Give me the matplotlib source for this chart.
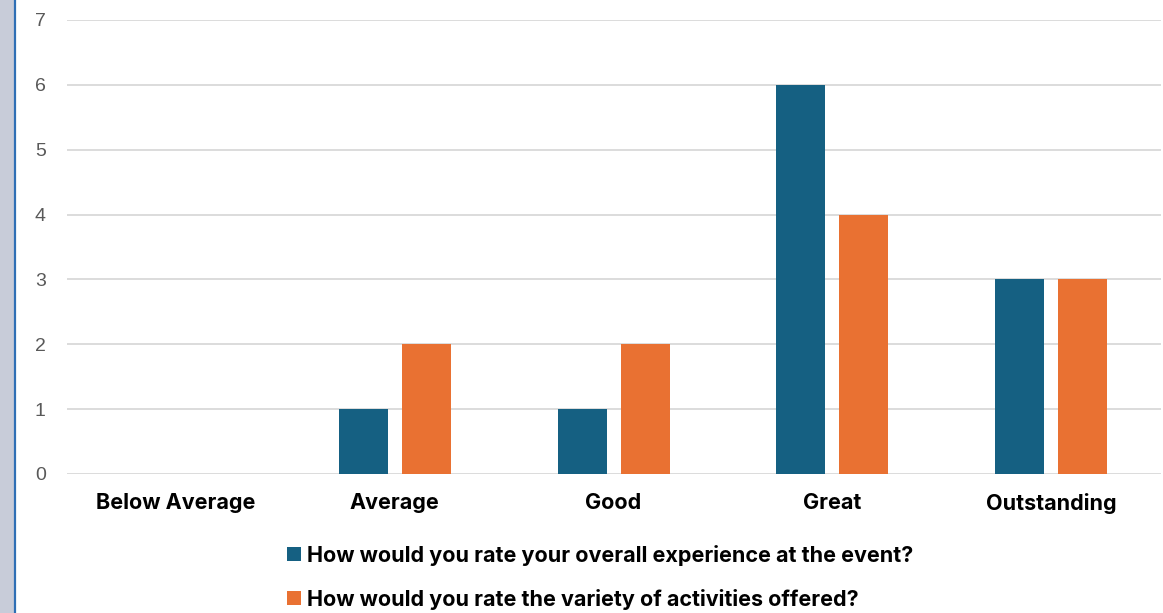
import numpy as np
import matplotlib
matplotlib.use("Agg")
import matplotlib.pyplot as plt
from matplotlib.patches import Rectangle
from matplotlib.lines import Line2D

categories = ["Below Average", "Average", "Good", "Great", "Outstanding"]
overall = [0, 1, 1, 6, 3]
variety = [0, 2, 2, 4, 3]
series_labels = [
    "How would you rate your overall experience at the event?",
    "How would you rate the variety of activities offered?",
]

BLUE = "#156082"
ORANGE = "#E97132"
GRID = "#D9D9D9"

plt.rcParams["font.family"] = ["Liberation Sans", "DejaVu Sans"]

fig = plt.figure(figsize=(11.63, 6.13), dpi=100)

# decorative strip on the left edge (slide background peeking through)
fig.patches.append(Rectangle((0, 0), 14 / 1163, 1, transform=fig.transFigure,
                             facecolor="#C8CCD9", edgecolor="none", zorder=0))
fig.lines.append(Line2D([15 / 1163, 15 / 1163], [0, 1], transform=fig.transFigure,
                        color="#2F6FB5", linewidth=1.6))

ax = fig.add_axes([0.0572, 0.2268, 0.9407, 0.7406])
x = np.arange(len(categories))
w = 0.224
off = 0.144
ax.bar(x - off, overall, width=w, color=BLUE, label=series_labels[0], zorder=3)
ax.bar(x + off, variety, width=w, color=ORANGE, label=series_labels[1], zorder=3)

ax.set_xlim(-0.5, len(categories) - 0.5)
ax.set_ylim(0, 7)
ax.set_yticks(range(0, 8))
ax.yaxis.grid(True, color=GRID, linewidth=1.3, zorder=0)
ax.set_axisbelow(True)
for s in ax.spines.values():
    s.set_visible(False)
ax.tick_params(axis="y", length=0, pad=15, labelsize=14, labelcolor="#595959")
ax.tick_params(axis="x", length=0, pad=14, labelsize=15.5)
ax.set_xticks(x)
ax.set_xticklabels(categories, fontweight="bold", fontfamily="Inter")

leg = fig.legend(loc="lower left", bbox_to_anchor=(268 / 1163, -0.026), ncol=1,
                 frameon=False, handlelength=0.62, handleheight=0.62,
                 handletextpad=0.3, labelspacing=1.05,
                 prop={"weight": "bold", "size": 15.5, "family": "Inter"})

fig.savefig("out.png", dpi=100)
